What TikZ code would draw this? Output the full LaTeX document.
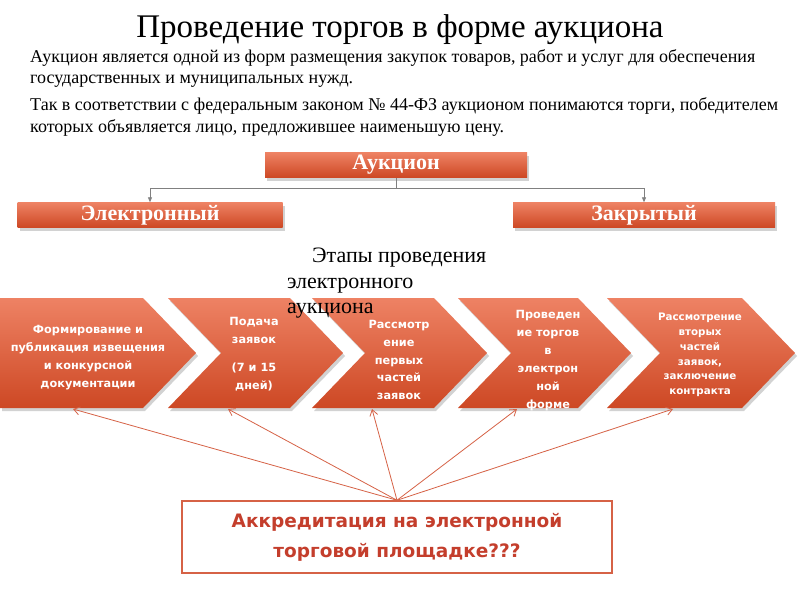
\documentclass[tikz,border=0pt]{standalone}
\usepackage{fontspec}
\setmainfont{Liberation Serif}
\newfontfamily\etapfont{DejaVu Sans}
\usepackage{xcolor}
\usetikzlibrary{shadows,arrows.meta}
\definecolor{pomjasny}{RGB}{238,130,100}
\definecolor{pomciemny}{RGB}{205,72,36}
\definecolor{szary}{RGB}{128,128,128}
\definecolor{ramka}{RGB}{214,98,70}
\definecolor{napis}{RGB}{196,62,44}
\newcommand{\chevr}[3]{\path[etap] (#1,298) -- (#2,298) -- (#2+53,353) -- (#2,408) -- (#1,408) -- (#1+#3,353) -- cycle;}

\begin{document}
\begin{tikzpicture}[x=1pt,y=-1pt,
  cien/.style={drop shadow={shadow xshift=2pt,shadow yshift=-3pt,opacity=0.35}},
  blok/.style={top color=pomjasny,bottom color=pomciemny,text=white,inner sep=0pt,minimum height=25pt,
    font=\bfseries\fontsize{22}{22}\selectfont,cien},
  etap/.style={top color=pomjasny,bottom color=pomciemny,cien},
  etaptxt/.style={text=white,align=center,inner sep=0pt,font=\etapfont\bfseries\fontsize{11.3}{18}\selectfont},
  akap/.style={anchor=base west,inner sep=0pt,font=\fontsize{18}{21}\selectfont},
  strz/.style={draw=ramka,line width=0.8pt,-{Straight Barb[length=6pt,width=8pt]}},
  gal/.style={draw=szary,line width=0.8pt,-{Triangle[length=5pt,width=4pt]}}]
\fill[white] (0,0) rectangle (800,600);
\useasboundingbox (0,0) rectangle (800,600);
% ---- NAGLOWEK ----
\node[anchor=base,inner sep=0pt,font=\fontsize{33}{33}\selectfont] (tytul) at (400,37) {Проведение торгов в форме аукциона};
\node[akap] (akap1) at (30,62) {Аукцион является одной из форм размещения закупок товаров, работ и услуг для обеспечения};
\node[akap] (akap2) at (30,83) {государственных и муниципальных нужд.};
\node[akap] (akap3) at (30,110) {Так в соответствии с федеральным законом №~44-ФЗ аукционом понимаются торги, победителем};
\node[akap] (akap4) at (30,132) {которых объявляется лицо, предложившее наименьшую цену.};
% ---- RODZAJE ----
\node[blok,minimum width=262pt] (auk) at (396,165) {Аукцион};
\node[blok,minimum width=265pt] (el) at (150,215) {Электронный};
\node[blok,minimum width=262pt] (zak) at (644,215) {Закрытый};
\draw[draw=szary,line width=0.8pt] (auk.south) -- ++(0,11) coordinate (rozg);
\draw[gal] (rozg) -| (el.north);
\draw[gal] (rozg) -| (zak.north);
% ---- ETAPY ----
\chevr{0}{143}{0}
\chevr{168}{290}{53}
\chevr{312}{434}{53}
\chevr{458}{578}{53}
\chevr{607}{742}{53}
\node[etaptxt] (e1) at (88,358) {Формирование и\\публикация извещения\\и конкурсной\\документации};
\node[etaptxt] (e2) at (254,354) {Подача\\заявок\\[10pt](7 и 15\\дней)};
\node[etaptxt,font=\etapfont\bfseries\fontsize{11.3}{17.7}\selectfont] (e3) at (399,360) {Рассмотр\\ение\\первых\\частей\\заявок};
\node[etaptxt] (e4) at (548,361) {Проведен\\ие торгов\\в\\электрон\\ной\\форме};
\node[etaptxt,font=\etapfont\bfseries\fontsize{10.3}{14.8}\selectfont] (e5) at (700,355) {Рассмотрение\\вторых\\частей\\заявок,\\заключение\\контракта};
\node[anchor=base west,inner sep=0pt,font=\fontsize{22}{22}\selectfont] (etapy1) at (312,262) {Этапы проведения};
\node[anchor=base west,inner sep=0pt,font=\fontsize{22}{22}\selectfont] (etapy2) at (287,288) {электронного};
\node[anchor=base west,inner sep=0pt,font=\fontsize{22}{22}\selectfont] (etapy3) at (287,313) {аукциона};
% ---- AKREDYTACJA ----
\node[draw=ramka,line width=1.5pt,minimum width=430pt,minimum height=72pt,align=center,text=napis,
  font=\etapfont\bfseries\fontsize{18.5}{30}\selectfont] (acc) at (397,537) {Аккредитация на электронной\\торговой площадке???};
\foreach \x [count=\i] in {73,228,372,517,673}
  \coordinate (p\i) at (\x,409);
\foreach \i in {1,...,5}
  \draw[strz] (acc.north) -- (p\i);
\end{tikzpicture}
\end{document}
